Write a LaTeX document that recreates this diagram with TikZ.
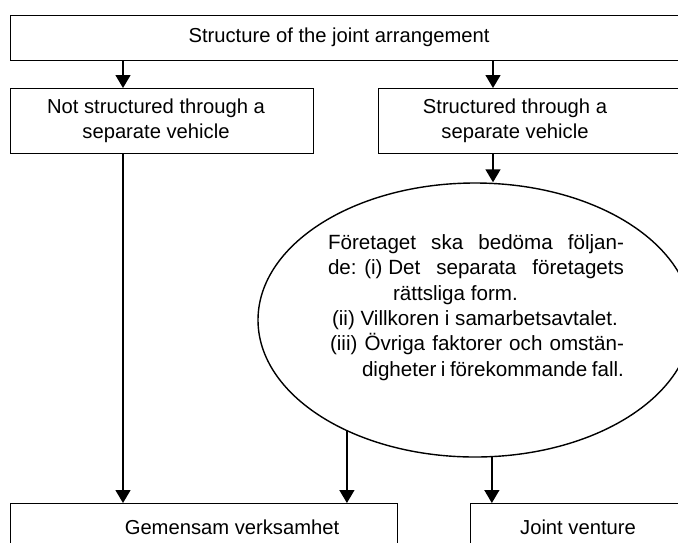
\documentclass[tikz,border=0pt]{standalone}
\usepackage{fontspec}
\setmainfont{Liberation Sans}
\usetikzlibrary{arrows.meta, positioning, shapes.geometric}

\begin{document}
\begin{tikzpicture}[x=0.5pt, y=-0.5pt, >={Triangle[width=7.5pt, length=6.5pt]},
    box/.style={draw, line width=0.7pt, rectangle, inner sep=0pt, anchor=north west},
    lbl/.style={align=center, inner sep=0pt, font=\fontsize{10.1}{12.6}\selectfont},
    arr/.style={->, line width=0.7pt}]
    \useasboundingbox (0,0) rectangle (678,542);
    % boxes
    \node[box, minimum width=345pt, minimum height=22.5pt] (top) at (10,15) {};
    \node[box, minimum width=151.5pt, minimum height=32.5pt] (notsep) at (10,88) {};
    \node[box, minimum width=171pt, minimum height=32.5pt] (sep) at (378,88) {};
    \node[box, minimum width=193.5pt, minimum height=33.5pt] (joint) at (10,503) {};
    \node[box, minimum width=125pt, minimum height=33.5pt] (jv) at (470,503) {};
    \node[draw, ellipse, line width=0.7pt, inner sep=0pt, minimum width=217pt, minimum height=137pt] (assess) at (475,320) {};
    % texts
    \node[lbl] (toptext) at (339,37.5) {Structure of the joint arrangement};
    \node[lbl] (notseptext) at (156,121) {Not structured through a\\separate vehicle};
    \node[lbl] (septext) at (515,121) {Structured through a\\separate vehicle};
    \node[lbl] (jointtext) at (232,527) {Gemensam verksamhet};
    \node[lbl] (jvtext) at (578,527) {Joint venture};
    \node[lbl, align=left, font=\fontsize{10.3}{12.7}\selectfont] (assesstext) at (476,307.5) {\parbox{148pt}{%
        \makebox[\linewidth][s]{Företaget ska bedöma följan-}\\
        \makebox[\linewidth]{de: (i) Det\hfill separata\hfill företagets}\\
        \hspace*{32.5pt}rättsliga form.\\
        \hspace*{2pt}(ii) Villkoren i samarbetsavtalet.\\
        \makebox[\linewidth][s]{\hspace*{1pt}(iii) Övriga faktorer och omstän-}\\
        \hspace*{17pt}digheter i förekommande fall.}};
    % connectors
    \coordinate (colA) at (123,0);
    \coordinate (colB) at (493,0);
    \draw[arr] (top.south -| colA) -- (notsep.north -| colA);
    \draw[arr] (top.south -| colB) -- (sep.north -| colB);
    \draw[arr] (sep.south -| colB) -- (assess.north -| colB);
    \draw[arr] (notsep.south -| colA) -- (joint.north -| colA);
    \draw[arr] (assess.221) -- (assess.221 |- joint.north);
    \draw[arr] (assess.277.5) -- (assess.277.5 |- jv.north);
\end{tikzpicture}
\end{document}
